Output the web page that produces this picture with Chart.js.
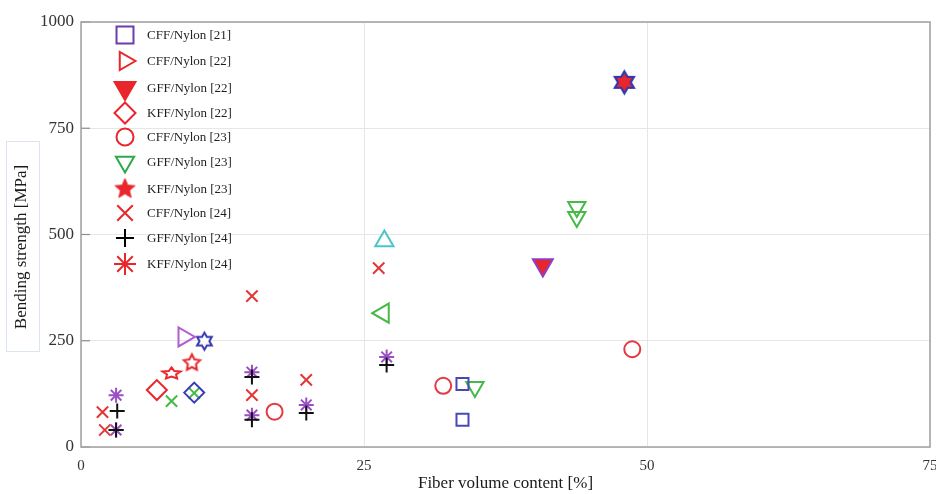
<!DOCTYPE html>
<html>
<head>
<meta charset="utf-8">
<script src="https://cdn.jsdelivr.net/npm/chart.js@4/dist/chart.umd.min.js"></script>
<style>
  html, body { margin: 0; padding: 0; background: #ffffff; }
  #wrap { width: 936px; height: 494px; position: relative; }
</style>
</head>
<body>
<div id="wrap"><canvas id="c" width="936" height="494"></canvas></div>
<script>
// ---------- data ----------
const xTicks = [0, 25, 50, 75];
const yTicks = [0, 250, 500, 750, 1000];
const xTitle = 'Fiber volume content [%]';
const yTitle = 'Bending strength [MPa]';

const legendLabels = ['CFF/Nylon [21]', 'CFF/Nylon [22]', 'GFF/Nylon [22]', 'KFF/Nylon [22]',
  'CFF/Nylon [23]', 'GFF/Nylon [23]', 'KFF/Nylon [23]', 'CFF/Nylon [24]', 'GFF/Nylon [24]', 'KFF/Nylon [24]'];

const squaresBlue      = [{x: 33.7, y: 148}, {x: 33.7, y: 64}];
const rightTriPurple   = [{x: 9.1, y: 259}];
const downTriFilled    = [{x: 40.8, y: 428}];
const diamondRed       = [{x: 6.7, y: 134}];
const diamondBlue      = [{x: 10.0, y: 128}];
const circlesRed       = [{x: 17.1, y: 83}, {x: 32.0, y: 144}, {x: 48.7, y: 230}];
const downTriGreen     = [{x: 34.8, y: 141}, {x: 43.8, y: 565}, {x: 43.8, y: 541}];
const upTriCyan        = [{x: 26.8, y: 485}];
const leftTriGreen     = [{x: 26.7, y: 315}];
const hexBlue          = [{x: 10.9, y: 249}];
const hexBlueRed       = [{x: 48.0, y: 858}];
const starOutlineRed   = [{x: 9.8, y: 198}];
const starWideRed      = [{x: 8.0, y: 173}];
const xRed             = [{x: 1.9, y: 82}, {x: 2.1, y: 40}, {x: 15.1, y: 355}, {x: 15.1, y: 122}, {x: 19.9, y: 158}, {x: 26.3, y: 421}];
const xGreen           = [{x: 8.0, y: 108}, {x: 10.0, y: 127}];
const plusBlack        = [{x: 3.2, y: 85}, {x: 3.1, y: 40}, {x: 15.1, y: 165}, {x: 15.1, y: 64}, {x: 19.9, y: 80}, {x: 27.0, y: 193}];
const asteriskPurple   = [{x: 3.1, y: 122}, {x: 3.1, y: 40}, {x: 15.1, y: 176}, {x: 15.1, y: 75}, {x: 19.9, y: 99}, {x: 27.0, y: 212}];

// ---------- custom marker canvases ----------
function starCanvas(points, R, rRatio, stroke, fill, lw, sy) {
  const pad = lw + 2;
  const w = Math.ceil(2 * R + 2 * pad), h = Math.ceil(2 * R * (sy || 1) + 2 * pad);
  const cv = document.createElement('canvas');
  cv.width = w; cv.height = h;
  const g = cv.getContext('2d');
  g.translate(w / 2, h / 2);
  g.scale(1, sy || 1);
  g.beginPath();
  const n = points * 2;
  for (let i = 0; i < n; i++) {
    const a = -Math.PI / 2 + i * Math.PI / points;
    const rr = (i % 2 === 0) ? R : R * rRatio;
    const px = Math.cos(a) * rr, py = Math.sin(a) * rr;
    if (i === 0) g.moveTo(px, py); else g.lineTo(px, py);
  }
  g.closePath();
  g.setTransform(1, 0, 0, 1, 0, 0);
  if (fill) { g.fillStyle = fill; g.fill(); }
  if (stroke) { g.strokeStyle = stroke; g.lineWidth = lw; g.lineJoin = 'miter'; g.stroke(); }
  return cv;
}
const RED = '#e8262b';
const hexBlueImg    = starCanvas(6, 8.5, 1 / Math.sqrt(3), '#3535b0', '#ffffff', 2);
const hexBlueRedImg = starCanvas(6, 11, 1 / Math.sqrt(3), '#3535b0', RED, 2.2);
const starOutImg    = starCanvas(5, 8.5, 0.5, RED, null, 2);
const starWideImg   = starCanvas(5, 9.5, 0.5, RED, null, 2, 0.65);
const starLegendImg = starCanvas(5, 10.5, 0.45, RED, RED, 1);

// ---------- datasets ----------
function ds(label, data, style, radius, border, fill, rotation, bw) {
  return {
    label, data, showLine: false, clip: false,
    pointStyle: style, pointRadius: radius, pointHoverRadius: radius,
    pointBorderColor: border, pointBackgroundColor: fill || 'rgba(0,0,0,0)',
    pointRotation: rotation || 0, pointBorderWidth: bw || 2
  };
}
const datasets = [
  ds('squares', squaresBlue, 'rect', 8.5, '#4848b8'),
  ds('downTriGreen', downTriGreen, 'triangle', 10, '#46b946', null, 180),
  ds('rightTri', rightTriPurple, 'triangle', 11, '#b35ccf', null, 90),
  ds('downTriFilled', downTriFilled, 'triangle', 11.5, '#8e3fc4', RED, 180),
  ds('diamondRed', diamondRed, 'rectRot', 10, RED),
  ds('diamondBlue', diamondBlue, 'rectRot', 10, '#3a3ab8'),
  ds('circles', circlesRed, 'circle', 8, '#e43843'),
  ds('upTriCyan', upTriCyan, 'triangle', 10.5, '#4cc4cc'),
  ds('leftTriGreen', leftTriGreen, 'triangle', 11, '#46b946', null, -90),
  ds('hexBlue', hexBlue, hexBlueImg, 9, '#3535b0'),
  ds('hexBlueRed', hexBlueRed, hexBlueRedImg, 11, '#3535b0'),
  ds('starOut', starOutlineRed, starOutImg, 9, RED),
  ds('starWide', starWideRed, starWideImg, 9, RED),
  ds('xRed', xRed, 'crossRot', 8, '#e53636'),
  ds('xGreen', xGreen, 'crossRot', 8, '#44bb44'),
  ds('plus', plusBlack, 'cross', 7.5, '#111111'),
  ds('asterisk', asteriskPurple, 'star', 7.5, '#9b4fc4')
];

// ---------- legend entries (drawn inside plot) ----------
const legendStyles = [
  {pointStyle: 'rect', radius: 12, stroke: '#6a3db0', fill: null, rotation: 0},
  {pointStyle: 'triangle', radius: 10.5, stroke: RED, fill: null, rotation: 90},
  {pointStyle: 'triangle', radius: 12, stroke: RED, fill: RED, rotation: 180},
  {pointStyle: 'rectRot', radius: 10.5, stroke: RED, fill: null, rotation: 0},
  {pointStyle: 'circle', radius: 8.5, stroke: RED, fill: null, rotation: 0},
  {pointStyle: 'triangle', radius: 10.5, stroke: '#2fa84a', fill: null, rotation: 180},
  {pointStyle: starLegendImg, radius: 10, stroke: RED, fill: RED, rotation: 0},
  {pointStyle: 'crossRot', radius: 11, stroke: RED, fill: null, rotation: 0},
  {pointStyle: 'cross', radius: 9, stroke: '#000000', fill: null, rotation: 0},
  {pointStyle: 'star', radius: 11, stroke: RED, fill: null, rotation: 0}
];
const legendRowY = [35, 61, 88, 113, 137, 162, 189, 213, 238, 264];

const decorPlugin = {
  id: 'decor',
  beforeDatasetsDraw(chart) {
    const {ctx, chartArea: a, scales} = chart;
    ctx.save();
    ctx.strokeStyle = '#8c8c8c'; ctx.lineWidth = 1.2;
    yTicks.forEach(v => {
      const y = scales.y.getPixelForValue(v);
      ctx.beginPath(); ctx.moveTo(a.left, y); ctx.lineTo(a.left + 9, y); ctx.stroke();
    });
    ctx.strokeStyle = '#a6a6a6'; ctx.lineWidth = 1.6;
    ctx.strokeRect(a.left, a.top, a.right - a.left, a.bottom - a.top);
    ctx.restore();
  },
  afterDraw(chart) {
    const {ctx} = chart;
    ctx.save();
    ctx.strokeStyle = '#dbe5f0'; ctx.lineWidth = 1;
    ctx.strokeRect(6.5, 141.5, 33, 210);
    ctx.translate(22, 247);
    ctx.rotate(-Math.PI / 2);
    ctx.fillStyle = '#1a1a1a';
    ctx.font = '17px "Liberation Serif", "Times New Roman", serif';
    ctx.textAlign = 'center'; ctx.textBaseline = 'middle';
    ctx.fillText(yTitle, 0, 0);
    ctx.restore();

    ctx.save();
    const mx = 125, tx = 147;
    legendLabels.forEach((lab, i) => {
      const st = legendStyles[i];
      const y = legendRowY[i];
      ctx.strokeStyle = st.stroke;
      ctx.fillStyle = st.fill || 'rgba(0,0,0,0)';
      ctx.lineWidth = 2;
      const opts = {pointStyle: st.pointStyle, radius: st.radius, rotation: st.rotation, borderWidth: 2};
      if (Chart.helpers && Chart.helpers.drawPoint) {
        Chart.helpers.drawPoint(ctx, opts, mx, y);
      }
      ctx.fillStyle = '#1e1e1e';
      ctx.font = '13px "Liberation Serif", "Times New Roman", serif';
      ctx.textAlign = 'left'; ctx.textBaseline = 'middle';
      ctx.fillText(lab, tx, y + 1);
    });
    ctx.restore();
  }
};

const serif = '"Liberation Serif", "Times New Roman", serif';
new Chart(document.getElementById('c'), {
  type: 'scatter',
  data: { datasets },
  options: {
    responsive: false,
    animation: false,
    devicePixelRatio: 1,
    layout: { autoPadding: false, padding: { left: 0, right: 6, top: 22, bottom: 0 } },
    plugins: { legend: { display: false }, tooltip: { enabled: false } },
    scales: {
      x: {
        type: 'linear', min: 0, max: 75,
        afterBuildTicks(s) { s.ticks = xTicks.map(v => ({value: v})); },
        afterFit(s) { s.height = 47; s.paddingLeft = 0; s.paddingRight = 0; },
        ticks: { font: { family: serif, size: 15 }, color: '#333333', padding: 10, maxRotation: 0, callback: v => String(v) },
        grid: { color: '#e6e6e6', lineWidth: 1, drawTicks: false },
        border: { display: false },
        title: { display: true, text: xTitle, color: '#1a1a1a', font: { family: serif, size: 17 }, padding: { top: 2, bottom: 0 } }
      },
      y: {
        type: 'linear', min: 0, max: 1000,
        afterBuildTicks(s) { s.ticks = yTicks.map(v => ({value: v})); },
        afterFit(s) { s.width = 81; s.paddingTop = 0; s.paddingBottom = 0; },
        ticks: { font: { family: serif, size: 17 }, color: '#333333', padding: 7, callback: v => String(v) },
        grid: { color: '#e6e6e6', lineWidth: 1, drawTicks: false },
        border: { display: false }
      }
    }
  },
  plugins: [decorPlugin]
});
</script>
</body>
</html>
